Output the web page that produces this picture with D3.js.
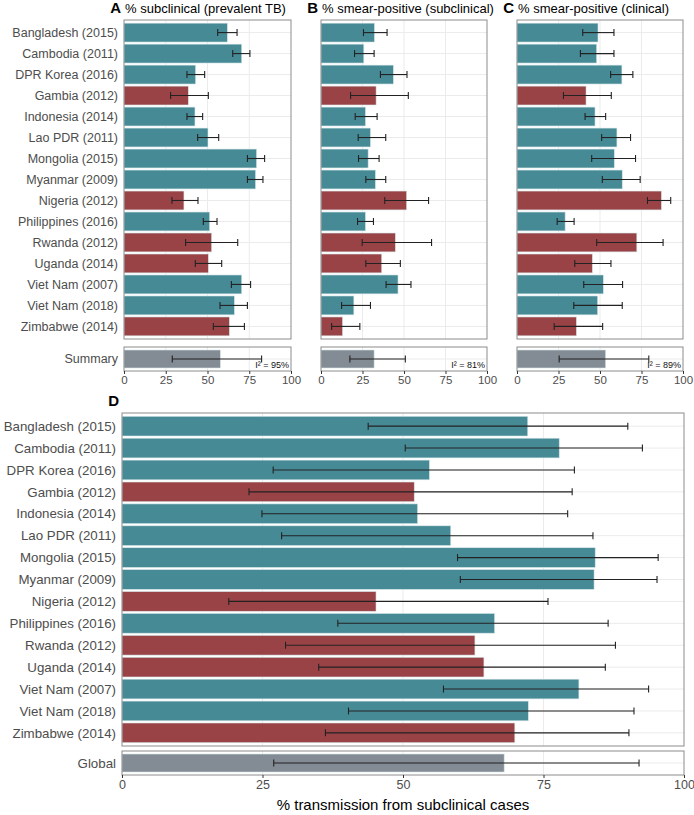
<!DOCTYPE html>
<html><head><meta charset="utf-8">
<script src="https://cdn.jsdelivr.net/npm/d3@7"></script>
<style>body{margin:0;background:#fff}svg{display:block;font-family:"Liberation Sans",Arial,sans-serif}</style>
</head><body><svg id="c" width="694" height="815"></svg>
<script>
const countries = ["Bangladesh (2015)","Cambodia (2011)","DPR Korea (2016)","Gambia (2012)","Indonesia (2014)","Lao PDR (2011)","Mongolia (2015)","Myanmar (2009)","Nigeria (2012)","Philippines (2016)","Rwanda (2012)","Uganda (2014)","Viet Nam (2007)","Viet Nam (2018)","Zimbabwe (2014)"];
const region = ["Asia","Asia","Asia","Africa","Asia","Asia","Asia","Asia","Africa","Asia","Africa","Africa","Asia","Asia","Africa"];

const subclinVal = [61.9,70.5,42.9,38.5,42.5,50.3,79.4,78.8,35.9,51.3,52.5,50.5,70.5,66.1,63.1];
const subclinLo  = [56.1,65.1,37.7,27.9,37.7,44.1,73.9,73.9,28.7,47.5,36.9,42.7,64.3,57.5,53.5];
const subclinHi  = [67.7,75.4,48.3,50.5,47.1,56.7,84.2,83.2,44.3,55.7,68.1,58.5,75.8,73.9,72.1];
const subclinSummary = [57.7,28.9,82.4];

const smearSubVal = [32.2,25.8,43.6,33.2,26.8,29.8,28.4,32.8,51.6,26.8,44.8,36.6,46.4,19.8,13.0];
const smearSubLo  = [25.6,20.2,35.8,17.8,20.6,22.4,22.6,27.0,38.4,22.0,24.8,27.0,39.2,12.4,6.4];
const smearSubHi  = [39.8,32.0,51.8,52.6,33.8,39.0,35.0,39.0,64.8,31.6,66.6,47.8,54.2,29.8,23.4];
const smearSubSummary = [32.0,17.4,50.8];

const smearClinVal = [48.8,48.0,63.2,41.6,47.0,60.2,58.6,63.4,87.0,29.0,72.2,45.4,52.0,48.6,35.8];
const smearClinLo  = [39.6,38.2,56.4,28.0,41.0,51.0,45.0,51.4,78.6,24.2,48.0,34.8,40.2,34.2,22.4];
const smearClinHi  = [58.4,58.4,69.8,56.8,53.4,68.4,71.4,74.2,92.6,34.4,88.0,56.6,63.6,63.4,51.6];
const smearClinSummary = [53.4,25.4,79.4];

const transVal = [72.2,77.8,54.7,52.0,52.6,58.5,84.2,84.0,45.2,66.3,62.8,64.4,81.3,72.3,69.9];
const transLo  = [43.8,50.4,26.9,22.6,24.9,28.4,59.7,60.2,19.0,38.4,29.1,35.0,57.2,40.3,36.2];
const transHi  = [90.0,92.6,80.5,80.1,79.3,83.8,95.4,95.2,75.8,86.5,87.8,86.0,93.7,91.1,90.2];
const transGlobal = [68.0,27.0,92.0];

const xTicks = [0,25,50,75,100];
const colors = {Asia:"#468a96", Africa:"#9a4347", Summary:"#838b94"};

const svg = d3.select("#c");

function panel(o){
  const g = svg.append("g");
  const x = d3.scaleLinear().domain([0,100]).range([o.x0,o.x1]);
  const y = d3.scaleBand().domain(countries).range([o.top,o.bot]).paddingInner(0.1).paddingOuter(0.15);
  const ys = d3.scaleBand().domain([o.sumLabel]).range([o.sTop,o.sBot]).paddingInner(0.1).paddingOuter(0.15);
  const capH = o.cap;
  function drawBox(top,bot,scale,keys){
    g.append("rect").attr("x",o.x0).attr("y",top).attr("width",o.x1-o.x0).attr("height",bot-top).attr("fill","#fff");
    g.selectAll(null).data(xTicks.slice(1,-1)).join("line")
      .attr("x1",d=>x(d)).attr("x2",d=>x(d)).attr("y1",top).attr("y2",bot)
      .attr("stroke","#ebebeb").attr("stroke-width",1);
    g.selectAll(null).data(keys).join("line")
      .attr("x1",o.x0).attr("x2",o.x1).attr("y1",d=>scale(d)+scale.bandwidth()/2).attr("y2",d=>scale(d)+scale.bandwidth()/2)
      .attr("stroke","#ebebeb").attr("stroke-width",1);
  }
  function drawFrame(top,bot){
    g.append("rect").attr("x",o.x0).attr("y",top).attr("width",o.x1-o.x0).attr("height",bot-top)
      .attr("fill","none").attr("stroke","#8c8c8c").attr("stroke-width",1);
  }
  function bars(data, scale){
    g.selectAll(null).data(data).join("rect")
      .attr("x",x(0)).attr("y",d=>scale(d.k)).attr("width",d=>x(d.v)-x(0)).attr("height",scale.bandwidth())
      .attr("fill",d=>colors[d.r]).attr("stroke","#d6e6e8").attr("stroke-width",0.6);
    const eb = g.selectAll(null).data(data).join("g");
    eb.append("line").attr("x1",d=>x(d.lo)).attr("x2",d=>x(d.hi))
      .attr("y1",d=>scale(d.k)+scale.bandwidth()/2).attr("y2",d=>scale(d.k)+scale.bandwidth()/2)
      .attr("stroke","#222").attr("stroke-width",1.1);
    [ "lo","hi" ].forEach(f=>{
      eb.append("line").attr("x1",d=>x(d[f])).attr("x2",d=>x(d[f]))
        .attr("y1",d=>scale(d.k)+scale.bandwidth()/2-capH).attr("y2",d=>scale(d.k)+scale.bandwidth()/2+capH)
        .attr("stroke","#222").attr("stroke-width",1.1);
    });
  }
  drawBox(o.top,o.bot,y,countries);
  bars(countries.map((k,i)=>({k,v:o.val[i],lo:o.lo[i],hi:o.hi[i],r:region[i]})), y);
  drawFrame(o.top,o.bot);
  drawBox(o.sTop,o.sBot,ys,[o.sumLabel]);
  bars([{k:o.sumLabel,v:o.sum[0],lo:o.sum[1],hi:o.sum[2],r:"Summary"}], ys);
  drawFrame(o.sTop,o.sBot);
  if(o.i2){
    g.append("text").attr("x",o.x1-2).attr("y",o.sBot-3).attr("text-anchor","end")
      .attr("font-size",9).attr("fill","#111").text(o.i2);
  }
  if(o.labels){
    g.selectAll(null).data(countries).join("text")
      .attr("x",o.x0-6).attr("y",d=>y(d)+y.bandwidth()/2).attr("dy","0.35em")
      .attr("text-anchor","end").attr("font-size",o.lfs).attr("fill","#4d4d4d").text(d=>d);
    g.append("text").attr("x",o.x0-6).attr("y",ys(o.sumLabel)+ys.bandwidth()/2).attr("dy","0.35em")
      .attr("text-anchor","end").attr("font-size",o.lfs).attr("fill","#4d4d4d").text(o.sumLabel);
  }
  const ax = g.append("g").attr("transform",`translate(0,${o.sBot})`)
    .call(d3.axisBottom(x).tickValues(xTicks).tickSize(3).tickPadding(2).tickFormat(d3.format("d")));
  ax.select(".domain").remove();
  ax.selectAll(".tick line").attr("stroke","#333");
  ax.selectAll(".tick text").attr("fill","#4d4d4d").attr("font-size",o.tfs).attr("font-family","Liberation Sans, Arial, sans-serif");
  if(o.title!==undefined){
    g.append("text").attr("x",o.x0-3).attr("y",o.top-7).attr("text-anchor","end")
      .attr("font-size",15).attr("font-weight","bold").attr("fill","#000").text(o.letter);
    g.append("text").attr("x",o.x0+1).attr("y",o.top-7).attr("font-size",13).attr("fill","#000").text(o.title);
  }
  return {x};
}

panel({x0:124,x1:291,top:20,bot:339,sTop:347,sBot:371,val:subclinVal,lo:subclinLo,hi:subclinHi,sum:subclinSummary,sumLabel:"Summary",i2:"I² = 95%",labels:true,lfs:12.5,tfs:11.5,cap:3.5,letter:"A",title:"% subclinical (prevalent TB)"});
panel({x0:321,x1:487,top:20,bot:339,sTop:347,sBot:371,val:smearSubVal,lo:smearSubLo,hi:smearSubHi,sum:smearSubSummary,sumLabel:"Summary",i2:"I² = 81%",labels:false,tfs:11.5,cap:3.5,letter:"B",title:"% smear-positive (subclinical)"});
panel({x0:517,x1:683,top:20,bot:339,sTop:347,sBot:371,val:smearClinVal,lo:smearClinLo,hi:smearClinHi,sum:smearClinSummary,sumLabel:"Summary",i2:"I² = 89%",labels:false,tfs:11.5,cap:3.5,letter:"C",title:"% smear-positive (clinical)"});
panel({x0:122,x1:684,top:413,bot:746,sTop:751,sBot:775,val:transVal,lo:transLo,hi:transHi,sum:transGlobal,sumLabel:"Global",i2:null,labels:true,lfs:13.3,tfs:12.5,cap:3.5,letter:"D",title:""});

svg.append("text").attr("x",(122+684)/2).attr("y",810).attr("text-anchor","middle")
  .attr("font-size",15).attr("fill","#000").text("% transmission from subclinical cases");
</script></body></html>
